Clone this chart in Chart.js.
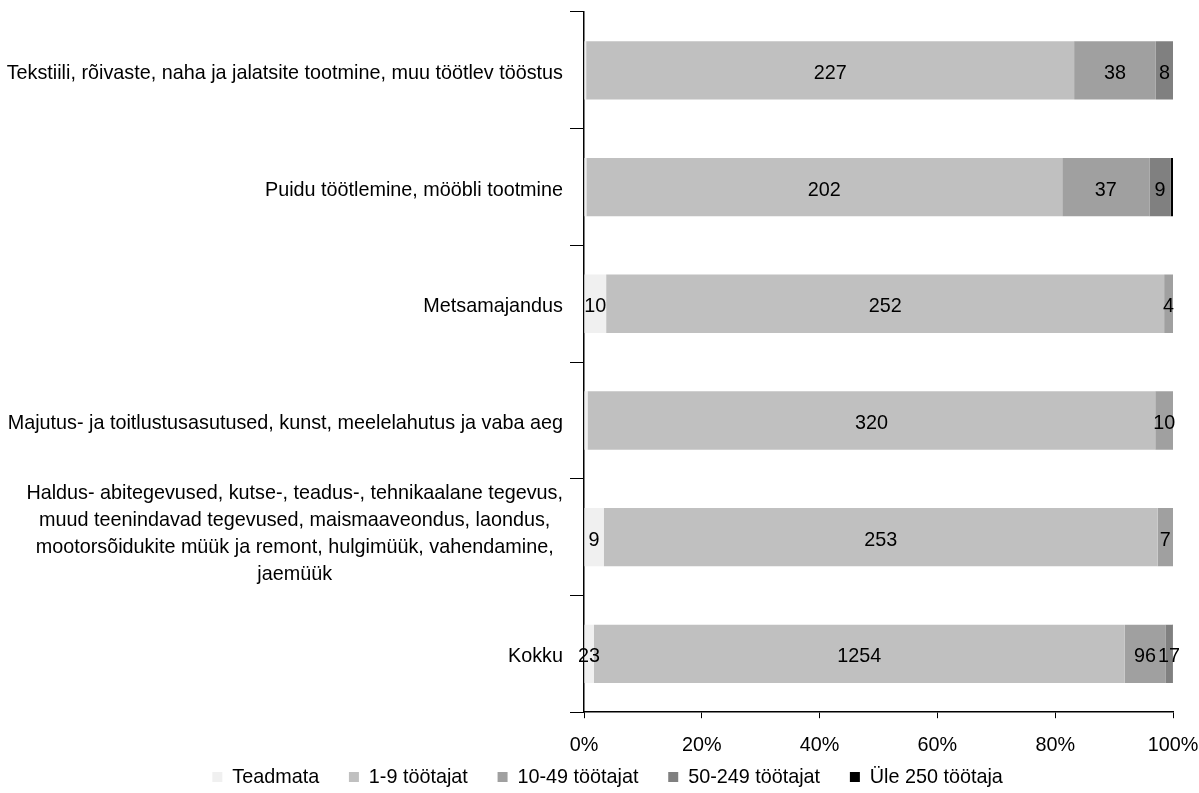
<!DOCTYPE html>
<html>
<head>
<meta charset="utf-8">
<script src="https://cdn.jsdelivr.net/npm/chart.js@4/dist/chart.umd.min.js"></script>
<style>
  html, body { margin: 0; padding: 0; background: #fff; }
  #wrap { width: 1199px; height: 793px; position: relative; }
</style>
</head>
<body>
<div id="wrap"><canvas id="ettevotted"></canvas></div>
<script>
// tegevusalad (ülevalt alla)
var tegevusalad = [
    ["Tekstiili, rõivaste, naha ja jalatsite tootmine, muu töötlev tööstus"],
    ["Puidu töötlemine, mööbli tootmine"],
    ["Metsamajandus"],
    ["Majutus- ja toitlustusasutused, kunst, meelelahutus ja vaba aeg"],
    ["Haldus- abitegevused, kutse-, teadus-, tehnikaalane tegevus,",
     "muud teenindavad tegevused, maismaaveondus, laondus,",
     "mootorsõidukite müük ja remont, hulgimüük, vahendamine,",
     "jaemüük"],
    ["Kokku"]
];

// ettevõtete arv suurusklassi järgi
var teadmata   = [1, 1, 10, 2, 9, 23];
var tootajat1  = [227, 202, 252, 320, 253, 1254];
var tootajat10 = [38, 37, 4, 10, 7, 96];
var tootajat50 = [8, 9, 0, 0, 0, 17];
var tootajat250 = [0, 1, 0, 0, 0, 1];

var seeriad = ["Teadmata", "1-9 töötajat", "10-49 töötajat", "50-249 töötajat", "Üle 250 töötaja"];
var varvid = ["#f0f0f0", "#c0c0c0", "#a0a0a0", "#808080", "#000000"];
var xTicks = [0, 20, 40, 60, 80, 100];

var FONT = '"Liberation Sans", Arial, sans-serif';
var SIZE = 19.8;
var arvud = [teadmata, tootajat1, tootajat10, tootajat50, tootajat250];

var kokku = tegevusalad.map(function (_, i) {
    return arvud.reduce(function (s, a) { return s + a[i]; }, 0);
});

var datasets = arvud.map(function (a, k) {
    return {
        label: seeriad[k],
        data: a.map(function (v, i) { return v / kokku[i] * 100; }),
        counts: a,
        backgroundColor: varvid[k],
        borderWidth: 0,
        barPercentage: 0.5,
        categoryPercentage: 1
    };
});

// arvud lõikude keskele
var vaartused = {
    id: 'vaartused',
    afterDatasetsDraw: function (chart) {
        var ctx = chart.ctx;
        ctx.save();
        ctx.font = SIZE + 'px ' + FONT;
        ctx.fillStyle = '#000';
        ctx.textAlign = 'center';
        ctx.textBaseline = 'middle';
        chart.data.datasets.forEach(function (ds, d) {
            chart.getDatasetMeta(d).data.forEach(function (bar, i) {
                var n = ds.counts[i];
                if (n <= 2) return;
                ctx.fillText(String(n), (bar.x + bar.base) / 2, bar.y + 3);
            });
        });
        ctx.restore();
    }
};

// kategooriate nimed, mitmerealised keskjoondusega
var nimed = {
    id: 'nimed',
    afterDraw: function (chart) {
        var ctx = chart.ctx;
        var y = chart.scales.y;
        var right = y.right - 21;
        var lh = 27;
        ctx.save();
        ctx.font = SIZE + 'px ' + FONT;
        ctx.fillStyle = '#000';
        ctx.textBaseline = 'middle';
        ctx.textAlign = 'center';
        tegevusalad.forEach(function (read, i) {
            var w = Math.max.apply(null, read.map(function (r) { return ctx.measureText(r).width; }));
            var cx = right - w / 2;
            var cy = y.getPixelForValue(i) - (read.length - 1) * lh / 2 + (read.length > 1 ? -3 : 3);
            read.forEach(function (r, j) {
                ctx.fillText(r, cx, cy + j * lh);
            });
        });
        ctx.restore();
    }
};

// legend veidi paremale
var legendiNihe = {
    id: 'legendiNihe',
    afterLayout: function (chart) {
        chart.legend.left += 31;
        chart.legend.right += 31;
    }
};

new Chart(document.getElementById('ettevotted'), {
    type: 'bar',
    data: {
        labels: tegevusalad.map(function (r) { return r.join(' '); }),
        datasets: datasets
    },
    options: {
        indexAxis: 'y',
        responsive: true,
        maintainAspectRatio: false,
        animation: false,
        layout: { padding: { top: 12, right: 26, left: 0, bottom: -4 } },
        scales: {
            x: {
                stacked: true,
                min: 0,
                max: 100,
                afterBuildTicks: function (s) {
                    s.ticks = xTicks.map(function (v) { return { value: v }; });
                },
                afterFit: function (s) {
                    s.height = 45;
                    s.paddingLeft = 0;
                    s.paddingRight = 0;
                },
                border: { color: '#000', width: 1.5 },
                grid: { drawOnChartArea: false, tickLength: 6, color: '#000' },
                ticks: {
                    color: '#000',
                    padding: 15,
                    maxRotation: 0,
                    font: { family: FONT, size: SIZE },
                    callback: function (v) { return v + '%'; }
                }
            },
            y: {
                stacked: true,
                afterFit: function (s) { s.width = 584; },
                border: { color: '#000', width: 1.5 },
                grid: { drawOnChartArea: false, tickLength: 14, color: '#000', offset: true },
                ticks: { display: false }
            }
        },
        plugins: {
            tooltip: { enabled: false },
            legend: {
                position: 'bottom',
                labels: {
                    color: '#000',
                    boxWidth: 10,
                    boxHeight: 10,
                    padding: 10,
                    font: { family: FONT, size: SIZE, lineHeight: 1 },
                    // lisavahe kirjete vahel
                    generateLabels: function (chart) {
                        var items = Chart.defaults.plugins.legend.labels.generateLabels(chart);
                        items.forEach(function (it) { it.text = it.text + '\u2003'; });
                        return items;
                    }
                }
            }
        }
    },
    plugins: [vaartused, nimed, legendiNihe]
});
</script>
</body>
</html>
